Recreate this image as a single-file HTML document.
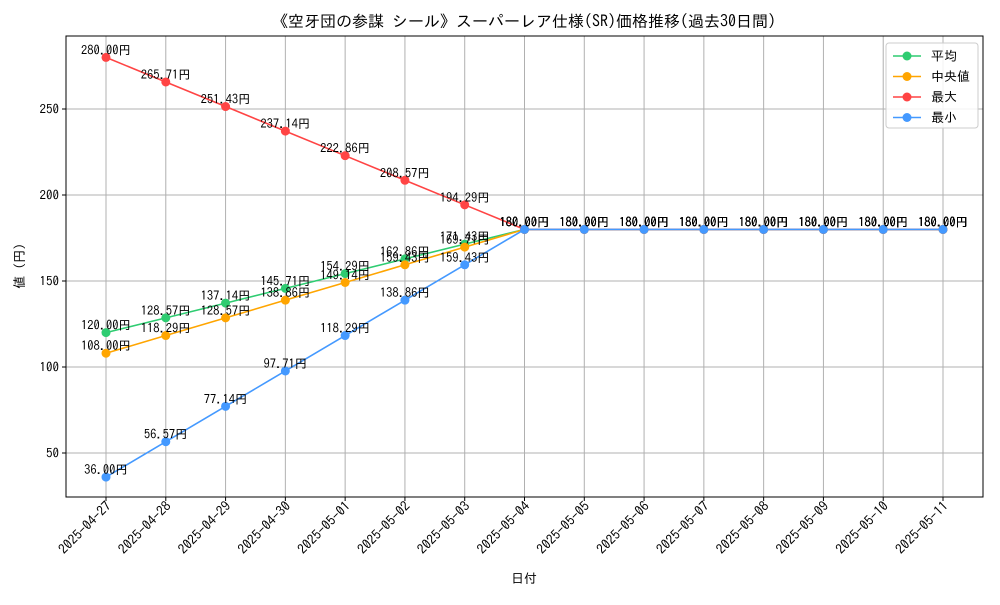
<!DOCTYPE html>
<html><head><meta charset="utf-8"><style>
body{margin:0;background:#fff}
svg{font-family:"IPAGothic","Liberation Sans","Noto Sans CJK JP",sans-serif}
</style></head><body>
<svg id="chart" width="1000" height="600" viewBox="0 0 1000 600"></svg>
<script>
const categories=["2025-04-27","2025-04-28","2025-04-29","2025-04-30","2025-05-01","2025-05-02","2025-05-03","2025-05-04","2025-05-05","2025-05-06","2025-05-07","2025-05-08","2025-05-09","2025-05-10","2025-05-11"];
const avgValues=[120,128.57,137.14,145.71,154.29,162.86,171.43,180,180,180,180,180,180,180,180];
const medianValues=[108,118.29,128.57,138.86,149.14,159.43,169.71,180,180,180,180,180,180,180,180];
const maxValues=[280,265.71,251.43,237.14,222.86,208.57,194.29,180,180,180,180,180,180,180,180];
const minValues=[36,56.57,77.14,97.71,118.29,138.86,159.43,180,180,180,180,180,180,180,180];
const yTicks=[50,100,150,200,250];
const seriesNames=["平均","中央値","最大","最小"];
const NS="http://www.w3.org/2000/svg";
const svg=document.getElementById('chart');
const L=66,R=983,T=36,B=497;
const x=i=>106+i*(943-106)/(categories.length-1);
const y=v=>453-(v-50)*(453-367)/50;
function el(t,a,p){const e=document.createElementNS(NS,t);for(const k in a)e.setAttribute(k,a[k]);(p||svg).appendChild(e);return e;}
function tx(s,a,p){const e=el('text',a,p);e.textContent=s;return e;}
const grid=el('g',{});


categories.forEach((c,i)=>{el('line',{x1:x(i),x2:x(i),y1:T,y2:B,stroke:'#b0b0b0','stroke-width':1},grid);});
yTicks.forEach(v=>{el('line',{x1:L,x2:R,y1:y(v),y2:y(v),stroke:'#b0b0b0','stroke-width':1},grid);});
const fr=el('rect',{x:L,y:T,width:R-L,height:B-T,fill:'none',stroke:'#000','stroke-width':1});


const xa=el('g',{});


categories.forEach((c,i)=>{
 el('line',{x1:x(i),x2:x(i),y1:B,y2:B+4,stroke:'#000'},xa);
 const t=tx(c,{x:x(i)+6,y:B+10,'font-size':13.5,'text-anchor':'end',transform:`rotate(-45 ${x(i)+6} ${B+10})`},xa);
 
 
});
const ya=el('g',{});


yTicks.forEach(v=>{
 el('line',{x1:L-4,x2:L,y1:y(v),y2:y(v),stroke:'#000'},ya);
 const t=tx(String(v),{x:L-7,y:y(v)+4.5,'font-size':13,'text-anchor':'end'},ya);
 
 
});
const tt=tx("《空牙団の参謀 シール》スーパーレア仕様(SR)価格推移(過去30日間)",{x:524,y:27,'font-size':16,'text-anchor':'middle'});


const xt=tx("日付",{x:524,y:583,'font-size':13,'text-anchor':'middle'});


const yt=tx("値 (円)",{x:24,y:266,'font-size':13,'text-anchor':'middle',transform:'rotate(-90 24 266)'});


const series=[[avgValues,'#2ecc71'],[medianValues,'#ffa500'],[maxValues,'#ff4444'],[minValues,'#4499ff']];
series.forEach(([vals,col],si)=>{
 const g=el('g',{});
 
 
 el('polyline',{points:vals.map((v,i)=>x(i)+','+y(v)).join(' '),fill:'none',stroke:col,'stroke-width':1.6},g);
 vals.forEach((v,i)=>{
  const c=el('circle',{cx:x(i),cy:y(v),r:4.5,fill:col},g);
  
  
 });
});
series.forEach(([vals,col],si)=>{
 vals.forEach((v,i)=>{
  const t=tx(v.toFixed(2)+"円",{x:x(i),y:y(v)-3,'font-size':12.5,'text-anchor':'middle'});
  
  
 });
});
const lg=el('g',{});


el('rect',{x:886,y:43,width:92,height:85,rx:3,fill:'#fff','fill-opacity':0.85,stroke:'#ccc'},lg);
series.forEach(([vals,col],si)=>{
 const yy=56+si*20.5;
 const e=el('g',{},lg);
 
 
 el('line',{x1:893,x2:921,y1:yy,y2:yy,stroke:col,'stroke-width':1.6},e);
 el('circle',{cx:907,cy:yy,r:4.5,fill:col},e);
 tx(seriesNames[si],{x:931,y:yy+4.5,'font-size':13},e);
});
</script>
</body></html>
